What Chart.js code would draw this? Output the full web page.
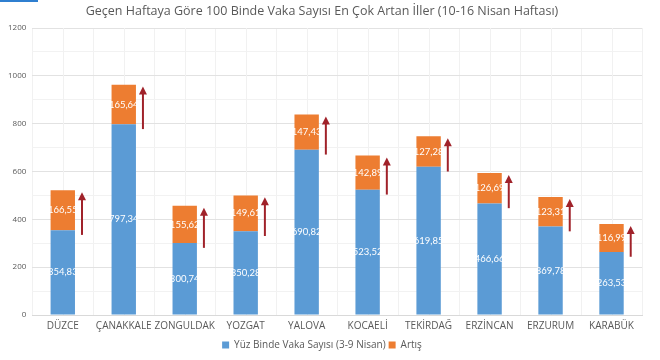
<!DOCTYPE html>
<html><head><meta charset="utf-8">
<script src="https://cdn.jsdelivr.net/npm/chart.js@4/dist/chart.umd.min.js"></script>
<style>html,body{margin:0;padding:0;background:#fff}#w{width:660px;height:360px;position:relative}#bar{position:absolute;left:0;top:0;width:38px;height:2px;background:#2f7fd0}</style>
</head><body><div id="w"><canvas id="c"></canvas><div id="bar"></div></div>
<script>
const categories = ["DÜZCE","ÇANAKKALE","ZONGULDAK","YOZGAT","YALOVA","KOCAELİ","TEKİRDAĞ","ERZİNCAN","ERZURUM","KARABÜK"];
const baseValues = [354.83,797.34,300.74,350.28,690.82,523.52,619.85,466.66,369.78,263.53];
const increaseValues = [166.55,165.64,155.62,149.61,147.43,142.89,127.28,126.69,123.31,116.99];
const seriesNames = ["Yüz Binde Vaka Sayısı (3-9 Nisan)","Artış"];
const titleText = "Geçen Haftaya Göre 100 Binde Vaka Sayısı En Çok Artan İller (10-16 Nisan Haftası)";

const fmt = v => v.toFixed(2).replace('.', ',');
const FONT = "'Open Sans', 'DejaVu Sans', sans-serif";
const LFONT = "Lato, 'Open Sans', sans-serif";

const minorGrid = {
  id: 'minorGrid',
  beforeDatasetsDraw(chart) {
    const ctx = chart.ctx, x = chart.scales.x, a = chart.chartArea;
    ctx.save();
    ctx.strokeStyle = '#f1f1f1';
    ctx.lineWidth = 1;
    for (let i = 0; i < categories.length; i++) {
      const px = Math.round(x.getPixelForValue(i)) + 0.5;
      ctx.beginPath(); ctx.moveTo(px, a.top); ctx.lineTo(px, a.bottom); ctx.stroke();
    }
    ctx.restore();
  }
};

const overlay = {
  id: 'overlay',
  afterDatasetsDraw(chart) {
    const ctx = chart.ctx;
    const y = chart.scales.y;
    ctx.save();
    ctx.font = "9.5px " + LFONT;
    ctx.fillStyle = '#ffffff';
    ctx.textAlign = 'center';
    ctx.textBaseline = 'middle';
    chart.data.datasets.forEach((ds, di) => {
      const meta = chart.getDatasetMeta(di);
      meta.data.forEach((bar, i) => {
        const mid = (bar.y + bar.base) / 2;
        ctx.fillText(fmt(ds.data[i]), bar.x, mid);
      });
    });
    const m1 = chart.getDatasetMeta(1);
    ctx.strokeStyle = '#a0222a';
    ctx.fillStyle = '#a0222a';
    ctx.lineWidth = 2;
    m1.data.forEach((bar, i) => {
      const x = bar.x + bar.width / 2 + 7;
      const yb = y.getPixelForValue(baseValues[i] - 20);
      const yt = y.getPixelForValue(baseValues[i] + increaseValues[i] - 8);
      ctx.beginPath();
      ctx.moveTo(x, yb);
      ctx.lineTo(x, yt + 5);
      ctx.stroke();
      ctx.beginPath();
      ctx.moveTo(x, yt);
      ctx.lineTo(x - 4, yt + 8);
      ctx.lineTo(x + 4, yt + 8);
      ctx.closePath();
      ctx.fill();
    });
    ctx.restore();
  }
};

new Chart(document.getElementById('c'), {
  type: 'bar',
  data: {
    labels: categories,
    datasets: [
      { label: seriesNames[0], data: baseValues, backgroundColor: '#5b9bd5' },
      { label: seriesNames[1], data: increaseValues, backgroundColor: '#ed7d31' }
    ]
  },
  options: {
    responsive: true,
    maintainAspectRatio: false,
    animation: false,
    layout: { padding: { left: 2, right: 18, top: 0, bottom: 0 } },
    datasets: { bar: { categoryPercentage: 1, barPercentage: 0.4 } },
    plugins: {
      title: { display: true, text: titleText, color: '#595959', font: { family: FONT, size: 12.5, weight: 'normal' }, padding: { top: 4, bottom: 9 } },
      legend: { position: 'bottom', labels: { color: '#595959', font: { family: FONT, size: 10 }, boxWidth: 7, boxHeight: 7, padding: 3 } },
      tooltip: { enabled: false }
    },
    scales: {
      x: {
        stacked: true,
        grid: { color: '#f1f1f1', drawTicks: false, offset: true },
        border: { color: '#d9d9d9' },
        ticks: { color: '#595959', font: { family: FONT, size: 10 }, padding: 5, maxRotation: 0, autoSkip: false }
      },
      y: {
        stacked: true,
        min: 0, max: 1200,
        ticks: { stepSize: 100, color: '#595959', font: { family: FONT, size: 8 }, padding: 6,
          callback: v => (v % 200 === 0 ? v : '') },
        grid: { drawTicks: false, color: ctx => (ctx.tick && ctx.tick.value % 200 === 0 ? '#e2e2e2' : '#f2f2f2') },
        border: { display: false }
      }
    }
  },
  plugins: [minorGrid, overlay]
});
</script></body></html>
